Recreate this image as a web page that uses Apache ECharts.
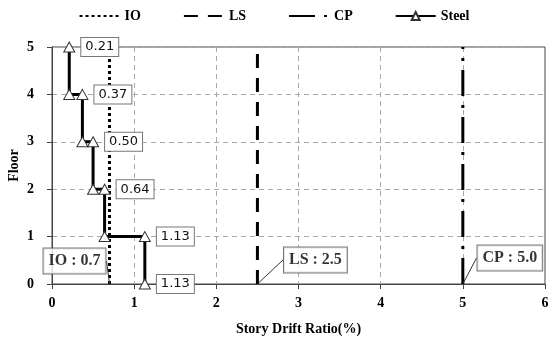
<!DOCTYPE html>
<html>
<head>
<meta charset="utf-8">
<script src="https://cdn.jsdelivr.net/npm/echarts@6/dist/echarts.min.js"></script>
<style>html,body{margin:0;padding:0;background:#fff}#c{width:548px;height:341px}</style>
</head>
<body>
<div id="c"></div>
<script>
// ---- data ----
const xTicks = [0, 1, 2, 3, 4, 5, 6];
const yTicks = [0, 1, 2, 3, 4, 5];
const steelDrift = [0.21, 0.21, 0.37, 0.37, 0.50, 0.50, 0.64, 0.64, 1.13, 1.13];
const steelFloor = [5, 4, 4, 3, 3, 2, 2, 1, 1, 0];
const steelLabelIdx = [0, 2, 4, 6, 8, 9];
const limitNames = ['IO', 'LS', 'CP'];
const limitValues = [0.7, 2.5, 5.0];
const limitLabels = ['IO : 0.7', 'LS : 2.5', 'CP : 5.0'];
const limitOffsets = [[-35, -23], [58, -24], [47, -26]];
const limitStyles = [[3, 3], [14, 10], [26, 9, 3, 9]];

const serif = "'Liberation Serif', 'Times New Roman', serif";
const chart = echarts.init(document.getElementById('c'));

const steelData = steelDrift.map((x, i) => {
  const d = { value: [x, steelFloor[i]] };
  if (steelLabelIdx.includes(i)) {
    d.label = { show: true, formatter: x.toFixed(2) };
  }
  return d;
});

const series = limitNames.map((n, i) => ({
  name: n,
  type: 'line',
  data: [[limitValues[i], 0], [limitValues[i], 5]],
  symbol: 'none',
  z: 3,
  lineStyle: { color: '#000', width: 3, type: limitStyles[i], cap: 'butt' },
  itemStyle: { color: '#000' },
  silent: true,
  animation: false
}));

series.push({
  name: 'Steel',
  type: 'line',
  data: steelData,
  symbol: 'triangle',
  symbolSize: [11, 10],
  z: 5,
  lineStyle: { color: '#000', width: 3 },
  itemStyle: { color: '#fff', borderColor: '#333', borderWidth: 1 },
  label: {
    show: false,
    position: 'right',
    distance: 6,
    fontFamily: 'DejaVu Sans',
    fontSize: 13,
    color: '#111',
    backgroundColor: '#fff',
    borderColor: '#777',
    borderWidth: 1,
    padding: [3, 4, 2, 4]
  },
  animation: false
});

series.push({
  name: 'limits',
  type: 'scatter',
  symbolSize: 1,
  itemStyle: { color: 'rgba(0,0,0,0)' },
  z: 6,
  data: limitValues.map((v, i) => ({ value: [v, 0], name: limitLabels[i] })),
  label: {
    show: true,
    position: 'inside',
    formatter: p => limitLabels[p.dataIndex],
    fontFamily: serif,
    fontWeight: 'bold',
    fontSize: 16,
    color: '#000',
    backgroundColor: '#fff',
    borderColor: '#555',
    borderWidth: 1,
    padding: [5, 5, 4, 5]
  },
  labelLine: { show: true, lineStyle: { color: '#333', width: 1 } },
  labelLayout: p => ({ dx: limitOffsets[p.dataIndex][0], dy: limitOffsets[p.dataIndex][1] }),
  animation: false
});

const hideSym = { color: 'rgba(0,0,0,0)', borderColor: 'rgba(0,0,0,0)', borderWidth: 0 };

chart.setOption({
  animation: false,
  backgroundColor: '#fff',
  legend: {
    data: [
      { name: 'IO', itemStyle: hideSym },
      { name: 'LS', itemStyle: hideSym },
      { name: 'CP', itemStyle: hideSym },
      { name: 'Steel' }
    ],
    top: 4,
    left: 'center',
    itemWidth: 40,
    itemHeight: 10,
    itemGap: 42,
    textStyle: { fontFamily: serif, fontWeight: 'bold', fontSize: 14, color: '#000' }
  },
  grid: { left: 52, right: 3, top: 47, bottom: 57, show: true, borderColor: '#444', borderWidth: 1, outerBoundsMode: 'none', containLabel: false },
  xAxis: {
    type: 'value', min: xTicks[0], max: xTicks[xTicks.length - 1], interval: 1,
    name: 'Story Drift Ratio(%)', nameLocation: 'middle', nameGap: 38, nameMoveOverlap: false,
    nameTextStyle: { fontFamily: serif, fontWeight: 'bold', fontSize: 14, color: '#000' },
    axisLine: { lineStyle: { color: '#444', width: 1 } },
    axisTick: { show: true, length: 5, lineStyle: { color: '#444' } },
    axisLabel: { fontFamily: serif, fontWeight: 'bold', fontSize: 14, color: '#000', margin: 12 },
    splitLine: { show: true, lineStyle: { color: '#aaa', type: [5, 4] } }
  },
  yAxis: {
    type: 'value', min: yTicks[0], max: yTicks[yTicks.length - 1], interval: 1,
    name: 'Floor', nameLocation: 'middle', nameGap: 31, nameRotate: 90, nameMoveOverlap: false,
    nameTextStyle: { fontFamily: serif, fontWeight: 'bold', fontSize: 14, color: '#000' },
    axisLine: { show: true, lineStyle: { color: '#444', width: 1 } },
    axisTick: { show: true, length: 5, lineStyle: { color: '#444' } },
    axisLabel: { fontFamily: serif, fontWeight: 'bold', fontSize: 14, color: '#000', margin: 18 },
    splitLine: { show: true, lineStyle: { color: '#aaa', type: [5, 4] } }
  },
  series: series
});
</script>
</body>
</html>
